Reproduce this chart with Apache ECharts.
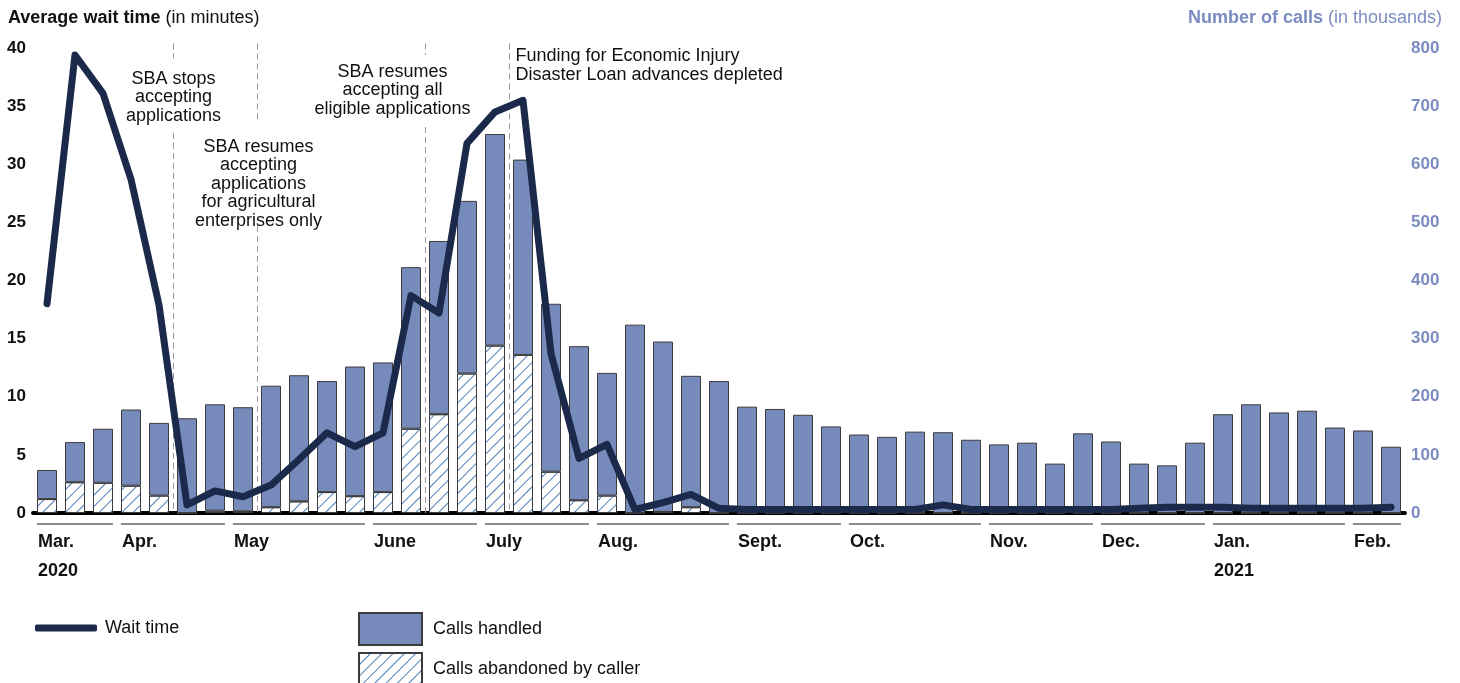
<!DOCTYPE html>
<html>
<head>
<meta charset="utf-8">
<script src="https://cdn.jsdelivr.net/npm/echarts@6/dist/echarts.min.js"></script>
<style>
  html, body { margin: 0; padding: 0; background: #fff; }
  #chart { width: 1460px; height: 683px; }
</style>
</head>
<body>
<div id="chart"></div>
<script>
// ---------------- DATA ----------------
const weeks = [
  'Mar-1','Mar-2','Mar-3',
  'Apr-1','Apr-2','Apr-3','Apr-4',
  'May-1','May-2','May-3','May-4','May-5',
  'Jun-1','Jun-2','Jun-3','Jun-4',
  'Jul-1','Jul-2','Jul-3','Jul-4',
  'Aug-1','Aug-2','Aug-3','Aug-4','Aug-5',
  'Sep-1','Sep-2','Sep-3','Sep-4',
  'Oct-1','Oct-2','Oct-3','Oct-4','Oct-5',
  'Nov-1','Nov-2','Nov-3','Nov-4',
  'Dec-1','Dec-2','Dec-3','Dec-4',
  'Jan-1','Jan-2','Jan-3','Jan-4','Jan-5',
  'Feb-1','Feb-2'
];

// Average wait time (minutes)
const waitTime = [
  18.0, 39.4, 36.1,
  28.7, 17.9, 0.7, 1.9,
  1.4, 2.4, 4.6, 6.9, 5.7,
  6.9, 18.7, 17.2, 31.8,
  34.5, 35.5, 13.7, 4.7,
  5.9, 0.3, 0.9, 1.6, 0.4,
  0.3, 0.3, 0.3, 0.3,
  0.3, 0.3, 0.3, 0.7, 0.3,
  0.3, 0.3, 0.3, 0.3,
  0.3, 0.4, 0.5, 0.5,
  0.5, 0.4, 0.4, 0.4, 0.4,
  0.4, 0.5
];

// Calls handled (thousands)
const callsHandled = [
  50, 69, 93,
  131, 125, 163, 183,
  179, 209, 217, 191, 223,
  223, 278, 298, 297,
  364, 336, 289, 265,
  211, 324, 293, 226, 227,
  183, 179, 169, 149,
  135, 131, 140, 139, 126,
  118, 121, 85, 137,
  123, 85, 82, 121,
  170, 187, 173, 176, 147,
  142, 114
];

// Calls abandoned by caller (thousands)
const callsAbandoned = [
  24, 53, 52,
  47, 30, 0, 4,
  3, 10, 20, 36, 29,
  36, 145, 170, 240,
  288, 272, 71, 22,
  30, 0, 2, 10, 0,
  0, 0, 0, 0,
  0, 0, 0, 0, 0,
  0, 0, 0, 0,
  0, 0, 0, 0,
  0, 0, 0, 0, 0,
  0, 0
];

// Month groups along the axis
const monthLabels = ['Mar.', 'Apr.', 'May', 'June', 'July', 'Aug.', 'Sept.', 'Oct.', 'Nov.', 'Dec.', 'Jan.', 'Feb.'];
const monthWeekCounts = [3, 4, 5, 4, 4, 5, 4, 5, 4, 4, 5, 2];
const monthYearLabels = ['2020', '', '', '', '', '', '', '', '', '', '2021', ''];

// Tick labels
const leftTicks = [0, 5, 10, 15, 20, 25, 30, 35, 40];
const rightTicks = [0, 100, 200, 300, 400, 500, 600, 700, 800];

// Events (dashed lines placed after the given week index)
const eventAfterWeek = [4, 7, 13, 16];
const eventTexts = [
  'SBA stops\naccepting\napplications',
  'SBA resumes\naccepting\napplications\nfor agricultural\nenterprises only',
  'SBA resumes\naccepting all\neligible applications',
  'Funding for Economic Injury\nDisaster Loan advances depleted'
];

// ---------------- LAYOUT (not data) ----------------
// dashed segments in left-axis units (minutes)
const eventSegments = [
  [[40.4, 39.1], [32.7, 0]],
  [[40.4, 33.5], [24.7, 0]],
  [[40.4, 39.4], [33.2, 0]],
  [[40.4, 0]]
];
const eventTextTop = [38.15, 32.3, 38.75, 40.1];  // minutes
const eventTextDx = [0, 1, -33, 6];               // px
const eventTextAlign = ['center', 'center', 'center', 'left'];

const FONT = 'Arial, "Liberation Sans", Helvetica, sans-serif';
const NAVY = '#1b2a4b';
const BAR_BLUE = '#768abb';
const HATCH_BLUE = '#4f7fb6';
const AXIS_BLUE = '#7b8cc1';
const BAR_W = 20;

// month start/end indices
const monthStart = [];
const monthEnd = [];
(function () {
  let s = 0;
  for (let i = 0; i < monthWeekCounts.length; i++) {
    monthStart.push(s);
    monthEnd.push(s + monthWeekCounts[i] - 1);
    s += monthWeekCounts[i];
  }
})();

const chart = echarts.init(document.getElementById('chart'), null, { renderer: 'canvas' });

const legendText = { fontFamily: FONT, fontSize: 18, color: '#111' };

const option = {
  backgroundColor: '#ffffff',
  animation: false,
  textStyle: { fontFamily: FONT },
  title: [
    {
      left: 8, top: 9, padding: 0,
      text: '{b|Average wait time} {n|(in minutes)}',
      textStyle: {
        rich: {
          b: { fontFamily: FONT, fontSize: 18, fontWeight: 'bold', color: '#111' },
          n: { fontFamily: FONT, fontSize: 18, fontWeight: 'normal', color: '#111' }
        }
      }
    },
    {
      right: 18, top: 9, padding: 0,
      text: '{b|Number of calls} {n|(in thousands)}',
      textStyle: {
        rich: {
          b: { fontFamily: FONT, fontSize: 18, fontWeight: 'bold', color: AXIS_BLUE },
          n: { fontFamily: FONT, fontSize: 18, fontWeight: 'normal', color: AXIS_BLUE }
        }
      }
    }
  ],
  legend: [
    {
      data: ['Wait time'],
      left: 35, top: 619, padding: 0,
      selectedMode: false,
      icon: 'roundRect',
      itemWidth: 62, itemHeight: 7,
      textStyle: Object.assign({ padding: [0, 0, 0, 3] }, legendText)
    },
    {
      data: ['Calls handled'],
      left: 358, top: 612, padding: 0,
      selectedMode: false,
      icon: 'rect',
      itemWidth: 63, itemHeight: 32,
      textStyle: Object.assign({ padding: [0, 0, 0, 6] }, legendText)
    },
    {
      data: ['Calls abandoned by caller'],
      left: 358, top: 652, padding: 0,
      selectedMode: false,
      icon: 'rect',
      itemWidth: 63, itemHeight: 32,
      textStyle: Object.assign({ padding: [0, 0, 8, 6] }, legendText)
    }
  ],
  grid: { left: 33, right: 55, top: 48, bottom: 170, containLabel: false },
  xAxis: {
    type: 'category',
    data: weeks,
    boundaryGap: true,
    axisLine: { show: true, lineStyle: { color: '#000', width: 4 } },
    axisTick: { show: false },
    axisLabel: { show: false },
    splitLine: { show: false }
  },
  yAxis: [
    {
      type: 'value',
      min: leftTicks[0], max: leftTicks[leftTicks.length - 1], interval: leftTicks[1] - leftTicks[0],
      position: 'left',
      axisLine: { show: false }, axisTick: { show: false }, splitLine: { show: false },
      axisLabel: { margin: 7, fontFamily: FONT, fontSize: 17, fontWeight: 'bold', color: '#111' }
    },
    {
      type: 'value',
      min: rightTicks[0], max: rightTicks[rightTicks.length - 1], interval: rightTicks[1] - rightTicks[0],
      position: 'right',
      axisLine: { show: false }, axisTick: { show: false }, splitLine: { show: false },
      axisLabel: { margin: 6, fontFamily: FONT, fontSize: 17, fontWeight: 'bold', color: AXIS_BLUE }
    }
  ],
  series: [
    {
      name: 'Calls abandoned by caller',
      type: 'bar',
      yAxisIndex: 1,
      stack: 'calls',
      barWidth: BAR_W,
      data: callsAbandoned,
      itemStyle: {
        color: '#ffffff',
        borderColor: '#3c3c3c',
        borderWidth: 1,
        decal: {
          symbol: 'rect',
          symbolSize: 1,
          dashArrayX: [1, 0],
          dashArrayY: [1, 7],
          rotation: -Math.PI / 4,
          color: HATCH_BLUE,
          backgroundColor: 'rgba(255,255,255,0)'
        }
      },
      z: 2
    },
    {
      name: 'Calls handled',
      type: 'bar',
      yAxisIndex: 1,
      stack: 'calls',
      barWidth: BAR_W,
      data: callsHandled,
      itemStyle: { color: BAR_BLUE, borderColor: '#3c3c3c', borderWidth: 1 },
      z: 2
    },
    {
      name: 'Wait time',
      type: 'line',
      yAxisIndex: 0,
      data: waitTime,
      symbol: 'none',
      color: NAVY,
      lineStyle: { color: NAVY, width: 7, cap: 'round', join: 'round' },
      z: 5
    },
    {
      // event markers
      type: 'custom',
      yAxisIndex: 0,
      silent: true,
      z: 1,
      encode: { x: 0, y: 1 },
      data: eventAfterWeek.map((w, i) => [w, i]),
      renderItem: function (params, api) {
        const w = api.value(0);
        const i = api.value(1);
        const half = api.size([1, 0])[0] / 2;
        const x = Math.round(api.coord([w, 0])[0] + half) + 0.5;
        const children = [];
        eventSegments[i].forEach(function (seg) {
          const y1 = api.coord([w, seg[0]])[1];
          const y2 = api.coord([w, seg[1]])[1];
          children.push({
            type: 'line',
            shape: { x1: x, y1: y1, x2: x, y2: y2 },
            style: { stroke: '#9a9a9a', lineWidth: 1, lineDash: [6, 4] }
          });
        });
        children.push({
          type: 'text',
          style: {
            text: eventTexts[i],
            x: x + eventTextDx[i],
            y: api.coord([w, eventTextTop[i]])[1],
            align: eventTextAlign[i],
            verticalAlign: 'top',
            fontFamily: FONT,
            fontSize: 18,
            lineHeight: 18.5,
            fill: '#111'
          }
        });
        return { type: 'group', children: children };
      }
    },
    {
      // month group lines & labels
      type: 'custom',
      yAxisIndex: 0,
      silent: true,
      z: 1,
      encode: { x: 0, y: 2 },
      data: monthLabels.map((m, i) => [monthStart[i], monthEnd[i], i]),
      renderItem: function (params, api) {
        const s = api.value(0);
        const e = api.value(1);
        const i = api.value(2);
        const p0 = api.coord([s, 0]);
        const p1 = api.coord([e, 0]);
        const hw = BAR_W / 2;
        const yLine = p0[1] + 11;
        const children = [
          {
            type: 'line',
            shape: { x1: p0[0] - hw, y1: yLine, x2: p1[0] + hw, y2: yLine },
            style: { stroke: '#8c8c8c', lineWidth: 2 }
          },
          {
            type: 'text',
            style: {
              text: monthLabels[i],
              x: p0[0] - hw + 1, y: p0[1] + 29,
              align: 'left', verticalAlign: 'middle',
              fontFamily: FONT, fontSize: 18, fontWeight: 'bold', fill: '#111'
            }
          }
        ];
        if (monthYearLabels[i]) {
          children.push({
            type: 'text',
            style: {
              text: monthYearLabels[i],
              x: p0[0] - hw + 1, y: p0[1] + 58,
              align: 'left', verticalAlign: 'middle',
              fontFamily: FONT, fontSize: 18, fontWeight: 'bold', fill: '#111'
            }
          });
        }
        return { type: 'group', children: children };
      }
    }
  ]
};

chart.setOption(option);
</script>
</body>
</html>
